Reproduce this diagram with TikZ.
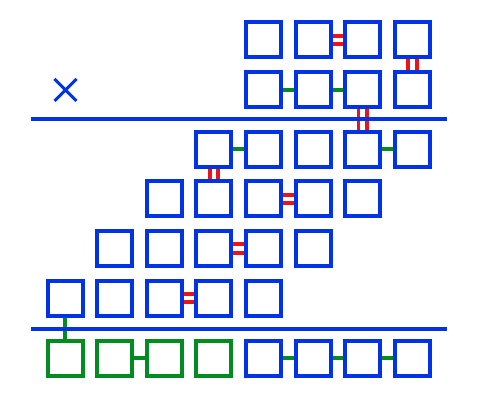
\documentclass[tikz,border=0pt]{standalone}
\usetikzlibrary{shapes.misc}
\definecolor{cellblue}{RGB}{0,51,230}
\definecolor{cellgreen}{RGB}{0,140,30}
\definecolor{cellred}{RGB}{235,20,20}

\begin{document}
\begin{tikzpicture}[x=0.5pt, y=-0.5pt]
            \tikzstyle{cell}=[draw=cellblue,line width=2pt,minimum size=17.5pt,inner sep=0pt]
            \tikzstyle{gcell}=[cell,draw=cellgreen]
            \tikzstyle{bond}=[draw=cellgreen,line width=2pt]
            \tikzstyle{dbond}=[draw=cellred,line width=1.9pt,double=white,double distance=2.4pt]
            \tikzstyle{rule}=[draw=cellblue,line width=2pt]
            \useasboundingbox (0,0) rectangle (480,400);

            \node[cell] (A5) at (263.6,40)  {};
            \node[cell] (A6) at (313.2,40)  {};
            \node[cell] (A7) at (362.8,40)  {};
            \node[cell] (A8) at (412.5,40)  {};

            \node[draw=cellblue,cross out,line width=1.5pt,minimum size=9.5pt,inner sep=0pt] (X) at (65.5,90) {};
            \node[cell] (B5) at (263.6,90)  {};
            \node[cell] (B6) at (313.2,90)  {};
            \node[cell] (B7) at (362.8,90)  {};
            \node[cell] (B8) at (412.5,90)  {};

            \node[cell] (C4) at (213.9,149.5)  {};
            \node[cell] (C5) at (263.6,149.5)  {};
            \node[cell] (C6) at (313.2,149.5)  {};
            \node[cell] (C7) at (362.8,149.5)  {};
            \node[cell] (C8) at (412.5,149.5)  {};

            \node[cell] (D3) at (164.3,199)  {};
            \node[cell] (D4) at (213.9,199)  {};
            \node[cell] (D5) at (263.6,199)  {};
            \node[cell] (D6) at (313.2,199)  {};
            \node[cell] (D7) at (362.8,199)  {};

            \node[cell] (E2) at (114.6,248.5)  {};
            \node[cell] (E3) at (164.3,248.5)  {};
            \node[cell] (E4) at (213.9,248.5)  {};
            \node[cell] (E5) at (263.6,248.5)  {};
            \node[cell] (E6) at (313.2,248.5)  {};

            \node[cell] (F1) at (65,298)  {};
            \node[cell] (F2) at (114.6,298)  {};
            \node[cell] (F3) at (164.3,298)  {};
            \node[cell] (F4) at (213.9,298)  {};
            \node[cell] (F5) at (263.6,298)  {};

            \node[gcell] (G1) at (65,358)  {};
            \node[gcell] (G2) at (114.6,358)  {};
            \node[gcell] (G3) at (164.3,358)  {};
            \node[gcell] (G4) at (213.9,358)  {};
            \node[cell] (G5) at (263.6,358)  {};
            \node[cell] (G6) at (313.2,358)  {};
            \node[cell] (G7) at (362.8,358)  {};
            \node[cell] (G8) at (412.5,358)  {};

            \draw[bond] (B5) -- (B6) (B6) -- (B7);
            \draw[bond] (C4) -- (C5) (C7) -- (C8);
            \draw[bond] (F1) -- (G1);
            \draw[bond] (G2) -- (G3) (G5) -- (G6) (G6) -- (G7) (G7) -- (G8);

            \draw[dbond] (A6) -- (A7);
            \draw[dbond] (A8) -- (B8);
            \draw[dbond] (B7) -- (C7);
            \draw[dbond] (C4) -- (D4);
            \draw[dbond] (D5) -- (D6);
            \draw[dbond] (E4) -- (E5);
            \draw[dbond] (F3) -- (F4);

            \coordinate (R1a) at (31,119.5);
            \coordinate (R1b) at (447,119.5);
            \coordinate (R2a) at (31,328.5);
            \coordinate (R2b) at (447,328.5);
            \draw[rule] (R1a) -- (R1b);
            \draw[rule] (R2a) -- (R2b);

        \end{tikzpicture}
\end{document}
